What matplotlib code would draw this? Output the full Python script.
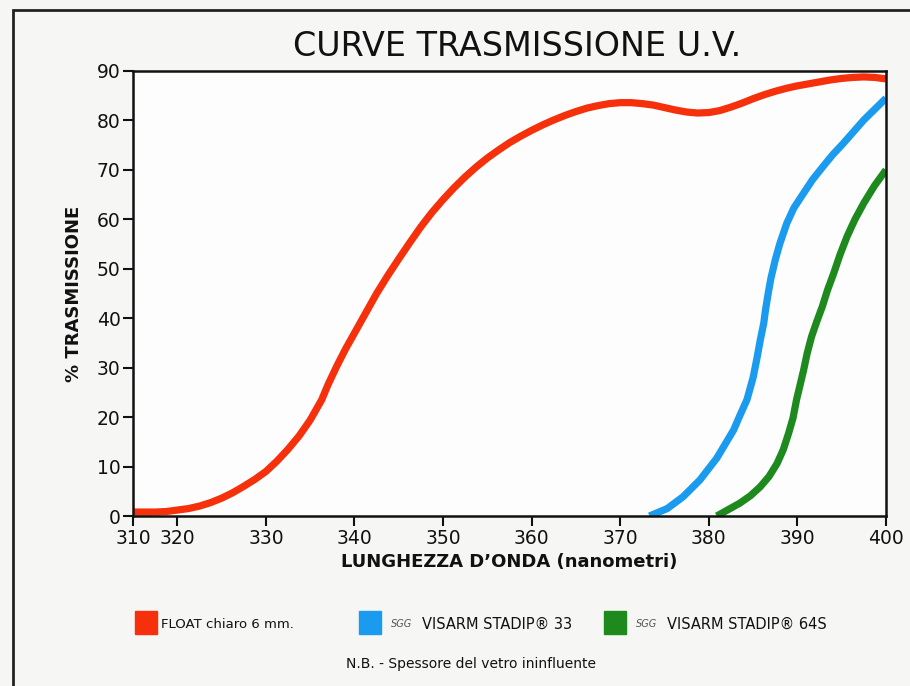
import numpy as np
import matplotlib
matplotlib.use("Agg")
import matplotlib.pyplot as plt
from matplotlib.patches import Rectangle

# ==========================================
# DATA
# ==========================================

float_nm = [310, 312.5, 315, 317.5, 320, 321.25, 322.5, 323.75, 325, 326.25,
            327.5, 328.75, 330, 331.25, 332.5, 333.75, 335, 336.3, 337, 338,
            339, 340, 341.25, 342.5, 343.75, 345, 346.25, 347.5, 348.75, 350,
            351.25, 352.5, 353.75, 355, 356.25, 357.5, 358.75, 360, 361.25,
            362.5, 363.75, 365, 366.25, 367.5, 368.75, 370, 371.25, 372.5,
            373.75, 375, 376.25, 377.5, 378.75, 380, 381.25, 382.5, 383.75,
            385, 386.25, 387.5, 388.75, 390, 391.25, 392.5, 393.75, 395,
            396.25, 397.5, 398.75, 400]
float_tr = [0.8, 0.8, 0.8, 0.9, 1.2, 1.5, 2.0, 2.7, 3.6, 4.7,
            6.0, 7.4, 9.0, 11.1, 13.5, 16.2, 19.4, 23.5, 26.5, 30.3,
            33.8, 37.0, 41.0, 45.0, 48.6, 52.0, 55.3, 58.5, 61.4, 64.0,
            66.4, 68.6, 70.6, 72.4, 74.0, 75.5, 76.8, 78.0, 79.1,
            80.1, 81.0, 81.8, 82.5, 83.0, 83.4, 83.6, 83.6, 83.4,
            83.1, 82.6, 82.1, 81.7, 81.5, 81.6, 82.0, 82.7, 83.5,
            84.4, 85.2, 85.9, 86.5, 87.0, 87.4, 87.8, 88.2, 88.5,
            88.7, 88.8, 88.7, 88.4]

v33_nm = [373.3, 375.3, 377.1, 379.0, 380.9, 382.8, 383.5, 384.3, 385.0,
          385.4, 385.8, 386.2, 386.4, 386.7, 387.0, 387.5, 388.0, 388.8,
          389.6, 390.7, 391.7, 392.9, 394.0, 395.2, 397.5, 400]
v33_tr = [0.0, 1.5, 3.9, 7.3, 11.7, 17.4, 20.3, 23.5, 28.0,
          31.6, 35.5, 39.0, 41.7, 45.0, 48.0, 51.8, 55.0, 59.2,
          62.3, 65.3, 68.0, 70.7, 73.1, 75.4, 80.1, 84.5]

v64_nm = [380.9, 383.5, 384.7, 385.8, 386.8, 387.7, 388.4, 389.0, 389.5,
          389.9, 390.3, 390.7, 391.1, 391.6, 392.2, 392.8, 393.4, 394.1,
          394.8, 395.6, 396.5, 397.5, 398.7, 400]
v64_tr = [0.0, 2.6, 4.1, 5.9, 8.0, 10.6, 13.4, 16.7, 19.8,
          23.5, 26.5, 29.5, 32.9, 36.3, 39.4, 42.3, 45.7, 49.1,
          52.8, 56.5, 60.0, 63.3, 66.8, 70.0]

x_ticks = [310, 320, 330, 340, 350, 360, 370, 380, 390, 400]
y_ticks = [0, 10, 20, 30, 40, 50, 60, 70, 80, 90]

series_colors = ["#f5300a", "#1a9bef", "#1e8a1e"]
legend_main = ["FLOAT chiaro 6 mm.", "VISARM STADIP\u00ae 33", "VISARM STADIP\u00ae 64S"]
legend_prefix = ["", "SGG", "SGG"]

# ==========================================
# FIGURE
# ==========================================

W, H = 910, 686
fig = plt.figure(figsize=(W / 100, H / 100), dpi=100)
fig.patch.set_facecolor("#f6f6f4")

ax = fig.add_axes([133 / W, 1 - 516 / H, (886 - 133) / W, (516 - 71) / H])
ax.set_facecolor("#fdfdfd")


# 310-320 is drawn at half scale on the original chart
def fwd(x):
    x = np.asarray(x, dtype=float)
    return np.where(x < 320, 320 - (320 - x) / 2, x)


def inv(u):
    u = np.asarray(u, dtype=float)
    return np.where(u < 320, 320 - (320 - u) * 2, u)


ax.set_xscale("function", functions=(fwd, inv))

for xs, ys, c in zip([float_nm, v33_nm, v64_nm], [float_tr, v33_tr, v64_tr], series_colors):
    ax.plot(xs, ys, color=c, linewidth=5.2, solid_capstyle="butt",
            solid_joinstyle="round")

ax.set_xlim(310, 400)
ax.set_ylim(0, 90)
ax.set_xticks(x_ticks)
ax.set_yticks(y_ticks)
ax.set_xticklabels([str(t) for t in x_ticks])
ax.minorticks_off()
ax.tick_params(direction="out", length=7, width=1.5, labelsize=13.5, pad=2,
               colors="#111111")
for s in ax.spines.values():
    s.set_linewidth(1.8)
    s.set_color("#111111")

ax.set_xlabel("LUNGHEZZA D\u2019ONDA (nanometri)", fontsize=13, fontweight="bold",
              labelpad=4, color="#111111")
ax.set_ylabel("% TRASMISSIONE", fontsize=13, fontweight="bold", labelpad=10,
              color="#111111")

fig.text(517 / W, 1 - 47 / H, "CURVE TRASMISSIONE U.V.", fontsize=24,
         ha="center", va="center", color="#111111")

# ==========================================
# LEGEND (manual, like the original)
# ==========================================

sq_x = [135, 359, 604]
sq_y = 1 - 634 / H
text_size = [9.5, 10.5, 10.5]
for i, c in enumerate(series_colors):
    fig.patches.append(Rectangle((sq_x[i] / W, sq_y), 22 / W, 23 / H,
                                 transform=fig.transFigure, color=c))
    tx = (sq_x[i] + 26) / W
    if legend_prefix[i]:
        fig.text(tx + 6 / W, 1 - 624 / H, legend_prefix[i], fontsize=7,
                 style="italic", color="#555555", va="center", ha="left")
        tx = (sq_x[i] + 63) / W
    fig.text(tx, 1 - 624 / H, legend_main[i], fontsize=text_size[i],
             color="#111111", va="center", ha="left")

fig.text(471 / W, 1 - 664 / H, "N.B. - Spessore del vetro ininfluente",
         fontsize=10, color="#111111", ha="center", va="center")

# outer frame
fig.patches.append(Rectangle((13 / W, -0.05), 1.2, 1 - 10 / H + 0.05,
                             transform=fig.transFigure, fill=False,
                             linewidth=2, edgecolor="#222222"))

fig.savefig("out.png", dpi=100, facecolor=fig.get_facecolor())
